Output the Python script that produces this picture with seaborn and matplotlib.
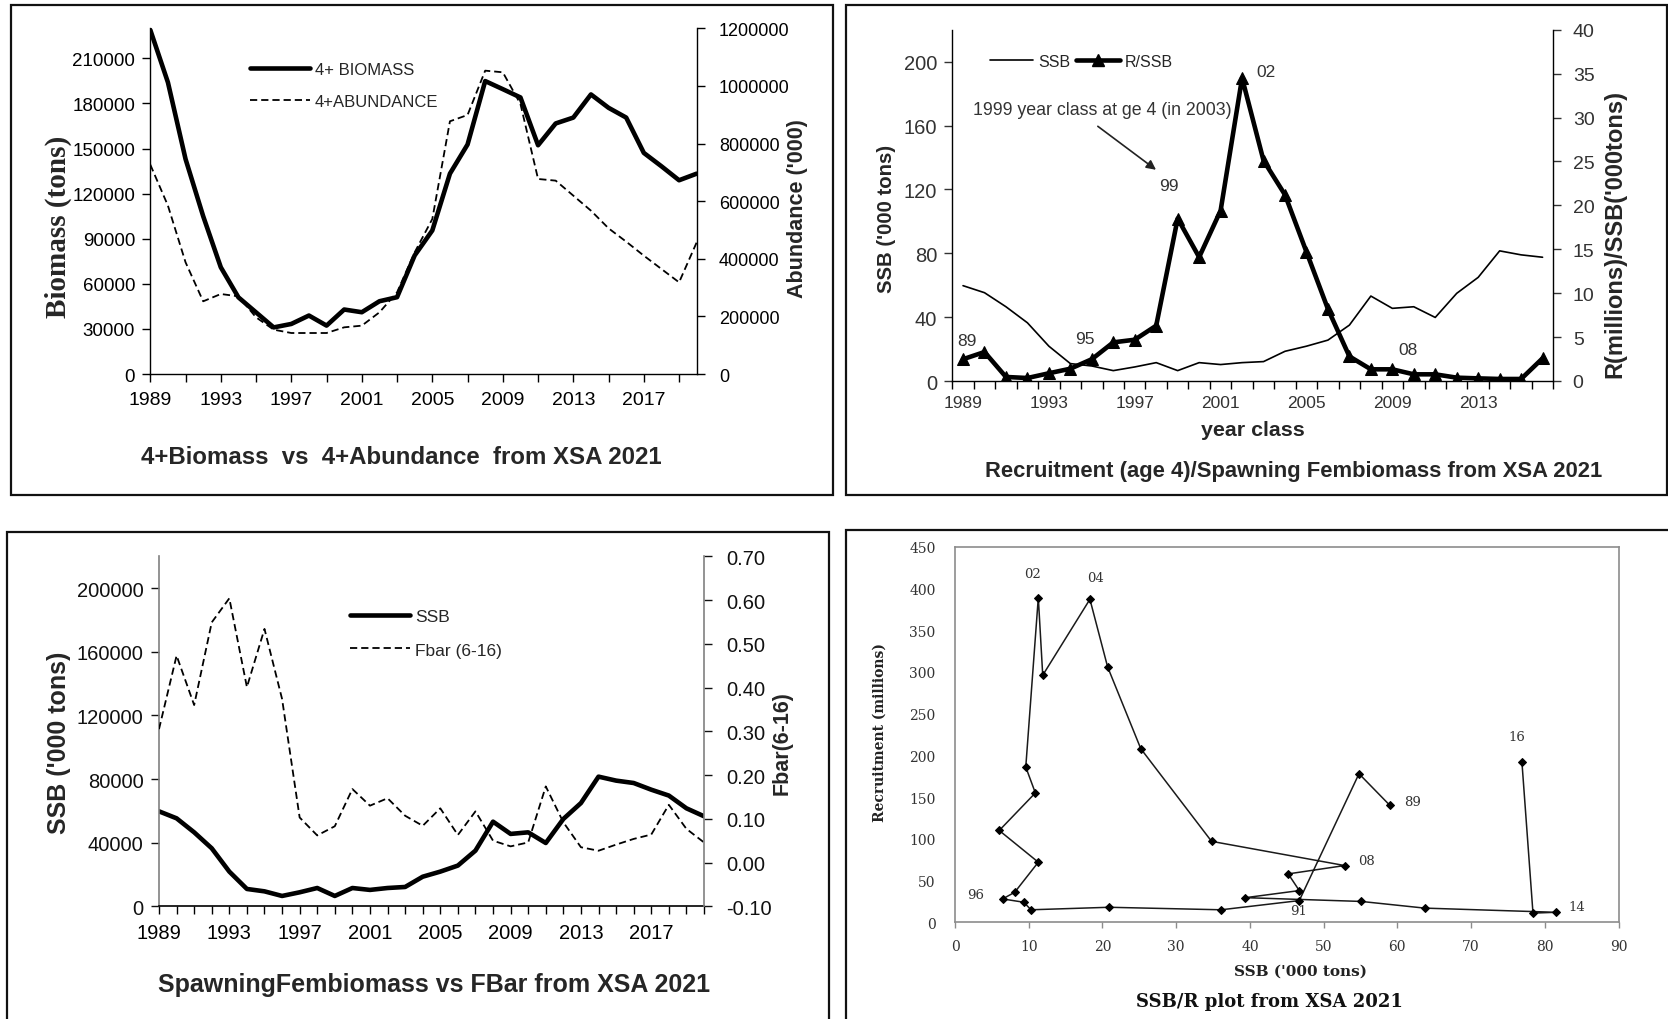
import numpy as np
import matplotlib
matplotlib.use('Agg')
import matplotlib.pyplot as plt
import seaborn as sns
from matplotlib.lines import Line2D
from matplotlib.patches import Rectangle

# ---------------- data ----------------
years = list(range(1989, 2021))
biomass = [228900, 194000, 143000, 105000, 71000, 51000, 41000, 31000, 33300, 38900,
           32200, 42900, 41100, 48400, 51100, 78900, 95500, 133300, 152700, 194900,
           189500, 184000, 152200, 166700, 170600, 186000, 177100, 170600, 147100,
           138200, 128900, 133300]
abundance = [726700, 584400, 387700, 252300, 277700, 269600, 196700, 153900, 142300,
             142300, 142300, 162000, 167800, 214100, 283500, 422400, 538100, 877200,
             899100, 1053000, 1047300, 937300, 677000, 671200, 619100, 567000, 505700,
             459400, 410800, 364500, 318200, 457100]
ssb = [59700, 55300, 46500, 36450, 21800, 10900, 9400, 6500, 8800, 11500, 6500, 11500,
       10300, 11500, 12150, 18600, 21800, 25600, 35000, 53200, 45500, 46500, 39800,
       54900, 64900, 81500, 79000, 77500, 73300, 69600, 61600, 56600]
fbar = [0.305, 0.473, 0.360, 0.549, 0.604, 0.401, 0.534, 0.374, 0.103, 0.062, 0.083,
        0.168, 0.130, 0.147, 0.107, 0.084, 0.124, 0.063, 0.117, 0.050, 0.037, 0.046,
        0.174, 0.092, 0.035, 0.027, 0.041, 0.054, 0.064, 0.132, 0.077, 0.046]

year_class = list(range(1989, 2017))
ssb_k = [v / 1000 for v in ssb[:len(year_class)]]
r_per_ssb = [2.48, 3.3, 0.46, 0.34, 0.88, 1.4, 2.48, 4.4, 4.7, 6.3, 18.5, 14.1, 19.4,
             34.5, 25.1, 21.2, 14.7, 8.2, 2.8, 1.33, 1.33, 0.76, 0.76, 0.38, 0.3, 0.23,
             0.23, 2.58]
rs_labels = ['89', '95', '99', '02', '08']

sr_ssb = [59.0, 54.8, 46.7, 36.1, 20.9, 10.3, 9.35, 6.46, 8.1, 11.3, 6.0, 10.9, 9.6,
          11.3, 11.9, 18.3, 20.7, 25.2, 34.8, 52.85, 45.2, 46.7, 39.4, 55.1, 63.7,
          81.5, 78.4, 76.9]
sr_rec = [140, 178, 26, 15, 18, 15, 24, 28, 36, 72, 110, 155, 186, 389, 296, 387, 306,
          208, 97, 68, 58, 38, 29.5, 25, 17, 12, 11, 192]
sr_labels = ['02', '04', '96', '08', '89', '16', '14', '91']

# ---------------- setup ----------------
sns.set_theme(style='ticks')
plt.rcParams['font.family'] = ['Liberation Sans', 'DejaVu Sans']
SERIF = ['DejaVu Serif']

W, H = 1668, 1020
fig = plt.figure(figsize=(W / 100, H / 100), dpi=100)
fig.patch.set_facecolor('white')


def axrect(l, r, t, b):
    return [l / W, 1 - b / H, (r - l) / W, (b - t) / H]


def ftext(x, y, s, **kw):
    ha = kw.pop('ha', 'center')
    va = kw.pop('va', 'center')
    fig.text(x / W, 1 - y / H, s, ha=ha, va=va, **kw)


def twin_style(ax, axb, color='black', lcolor='black', lw=1.0):
    ax.spines['top'].set_visible(False)
    ax.spines['right'].set_visible(False)
    axb.spines['top'].set_visible(False)
    axb.spines['left'].set_visible(False)
    axb.spines['bottom'].set_visible(False)
    ax.spines['left'].set_color(lcolor)
    ax.spines['bottom'].set_color(color)
    axb.spines['right'].set_color(lcolor)
    for s in ('left', 'bottom'):
        ax.spines[s].set_linewidth(lw)
    axb.spines['right'].set_linewidth(lw)
    ax.set_facecolor('none')
    axb.set_facecolor('none')
    ax.set_xlabel('')
    ax.set_ylabel('')
    axb.set_xlabel('')
    axb.set_ylabel('')


dash = (0, (4, 2.2))

# ---------------- panel 1 ----------------
ax1 = fig.add_axes(axrect(150.3, 696.7, 29.3, 375))
ax1b = ax1.twinx()
sns.lineplot(x=years, y=biomass, ax=ax1, color='black', linewidth=3.3,
             estimator=None, legend=False)
sns.lineplot(x=years, y=abundance, ax=ax1b, color='black', linewidth=1.3,
             linestyle=dash, estimator=None, legend=False)
ax1.set_xlim(1989, 2020)
ax1.set_ylim(0, 230000)
ax1b.set_ylim(0, 1200000)
yt1 = list(range(0, 210001, 30000))
ax1.set_yticks(yt1)
ax1.set_yticklabels([str(v) for v in yt1])
yt1b = list(range(0, 1200001, 200000))
ax1b.set_yticks(yt1b)
ax1b.set_yticklabels([str(v) for v in yt1b])
xt = list(range(1989, 2021, 2))
ax1.set_xticks(xt)
ax1.set_xticklabels([str(y) if (y - 1989) % 4 == 0 else '' for y in xt])
twin_style(ax1, ax1b)
ax1.tick_params(axis='x', direction='out', length=6, width=1, labelsize=14, pad=6, colors='black')
ax1.tick_params(axis='y', direction='out', length=6, width=1, labelsize=13.5, pad=5, colors='black')
ax1b.tick_params(axis='y', direction='out', length=6, width=1, labelsize=13, pad=10, colors='black')
ax1.legend(handles=[Line2D([], [], color='black', lw=3.3),
                    Line2D([], [], color='black', lw=1.3, ls=dash)],
           labels=['4+ BIOMASS', '4+ABUNDANCE'], loc='upper left',
           bbox_to_anchor=(250 / W, 1 - 63 / H), bbox_transform=fig.transFigure,
           frameon=False, borderpad=0, borderaxespad=0, handlelength=3.6,
           handletextpad=0.3, labelspacing=1.0, fontsize=12)
ftext(58, 227, 'Biomass (tons)', rotation=90, fontsize=21, fontweight='bold',
      family=['Liberation Serif'])
ftext(798, 209, "Abundance ('000)", rotation=90, fontsize=15.5, fontweight='bold')
ftext(401, 458, '4+Biomass  vs  4+Abundance  from XSA 2021', fontsize=17.3, fontweight='bold')

# ---------------- panel 2 ----------------
ax2 = fig.add_axes(axrect(952.3, 1553.3, 30.7, 382))
ax2b = ax2.twinx()
sns.lineplot(x=year_class, y=ssb_k, ax=ax2, color='black', linewidth=1.2,
             estimator=None, legend=False)
sns.lineplot(x=year_class, y=r_per_ssb, ax=ax2b, color='black', linewidth=3.3,
             marker='^', markersize=9, markeredgecolor='black', estimator=None,
             legend=False)
ax2.set_xlim(1988.5, 2016.5)
ax2.set_ylim(0, 220)
ax2b.set_ylim(0, 40)
ax2.set_yticks(range(0, 201, 40))
ax2b.set_yticks(range(0, 41, 5))
ax2.set_xticks(list(range(1989, 2017, 4)))
ax2.set_xticks(list(np.arange(1988.5, 2017, 1.0)), minor=True)
twin_style(ax2, ax2b)
ax2.tick_params(axis='x', which='major', length=0, labelsize=12.5, pad=10, colors='#333333')
ax2.tick_params(axis='x', which='minor', direction='out', length=6, width=1, color='black')
ax2.tick_params(axis='y', direction='out', length=6, width=1, labelsize=14.5, pad=5,
                colors='#333333')
ax2b.tick_params(axis='y', direction='out', length=6, width=1, labelsize=14, pad=8,
                 colors='#333333')
ax2.legend(handles=[Line2D([], [], color='black', lw=1.2),
                    Line2D([], [], color='black', lw=3.3, marker='^', markersize=8)],
           labels=['SSB', 'R/SSB'], loc='upper left', ncol=2,
           bbox_to_anchor=(990 / W, 1 - 55 / H), bbox_transform=fig.transFigure,
           frameon=False, borderpad=0, borderaxespad=0, handlelength=2.7,
           handletextpad=0.3, columnspacing=0.4, fontsize=11.5)
lab_pos = [(1989.2, 4.56), (1994.66, 4.8), (1998.57, 22.3), (2003.1, 35.25), (2009.74, 3.53)]
for s, (x, y) in zip(rs_labels, lab_pos):
    ax2b.text(x, y, s, ha='center', va='center', fontsize=12.5, color='#333333')
ax2b.text(1995.5, 30.9, '1999 year class at ge 4 (in 2003)', ha='center', va='center',
          fontsize=12.8, color='#333333')
ax2b.annotate('', xy=(1997.99, 24.05), xytext=(1995.28, 29.0),
              arrowprops=dict(arrowstyle='-|>', color='#222222', lw=1.2,
                              mutation_scale=14, shrinkA=0, shrinkB=0))
ftext(886.7, 219, "SSB ('000 tons)", rotation=90, fontsize=14.7, fontweight='bold')
ftext(1615, 234, "R(millions)/SSB('000tons)", rotation=90, fontsize=17, fontweight='bold')
ftext(1252.5, 430, 'year class', fontsize=15.4, fontweight='bold')
ftext(1293.3, 471.7, 'Recruitment (age 4)/Spawning Fembiomass from XSA 2021',
      fontsize=15.8, fontweight='bold')

# ---------------- panel 3 ----------------
ax3 = fig.add_axes(axrect(159, 704, 557.3, 907.3))
ax3b = ax3.twinx()
sns.lineplot(x=years, y=ssb, ax=ax3, color='black', linewidth=3.3,
             estimator=None, legend=False)
sns.lineplot(x=years, y=fbar, ax=ax3b, color='black', linewidth=1.3,
             linestyle=dash, estimator=None, legend=False)
ax3.set_xlim(1989, 2020)
ax3.set_ylim(0, 220000)
ax3b.set_ylim(-0.1, 0.7)
ax3.set_yticks(range(0, 200001, 40000))
fb_ticks = [round(v, 2) for v in np.arange(-0.1, 0.701, 0.1)]
ax3b.set_yticks(fb_ticks)
ax3b.set_yticklabels([f'{v:.2f}' for v in fb_ticks])
xt3 = list(range(1989, 2021))
ax3.set_xticks(xt3)
ax3.set_xticklabels([str(y) if (y - 1989) % 4 == 0 else '' for y in xt3])
twin_style(ax3, ax3b, color='black', lcolor='#808080', lw=1.2)
ax3.tick_params(axis='x', direction='out', length=6, width=1, labelsize=14.5, pad=6, colors='black')
ax3.tick_params(axis='y', direction='out', length=6, width=1, labelsize=14.5, pad=5, colors='#111111')
ax3b.tick_params(axis='y', direction='out', length=6, width=1, labelsize=14.5, pad=10, colors='#111111')
ax3.legend(handles=[Line2D([], [], color='black', lw=3.3),
                    Line2D([], [], color='black', lw=1.3, ls=dash)],
           labels=['SSB', 'Fbar (6-16)'], loc='upper left',
           bbox_to_anchor=(350 / W, 1 - 610 / H), bbox_transform=fig.transFigure,
           frameon=False, borderpad=0, borderaxespad=0, handlelength=3.45,
           handletextpad=0.3, labelspacing=1.05, fontsize=12.5)
ftext(59, 742.5, "SSB ('000 tons)", rotation=90, fontsize=18, fontweight='bold')
ftext(782, 743.3, 'Fbar(6-16)', rotation=90, fontsize=15.5, fontweight='bold')
ftext(434, 985, 'SpawningFembiomass vs FBar from XSA 2021', fontsize=18, fontweight='bold')

# ---------------- panel 4 ----------------
ax4 = fig.add_axes(axrect(955, 1618.5, 547.7, 923.3))
sns.lineplot(x=sr_ssb, y=sr_rec, ax=ax4, sort=False, estimator=None, color='#1a1a1a',
             linewidth=1.1, marker='D', markersize=4.5, markeredgecolor='black',
             markerfacecolor='black', legend=False)
ax4.set_xlim(0, 90)
ax4.set_ylim(0, 450)
ax4.set_xticks(range(0, 91, 10))
ax4.set_yticks(range(0, 451, 50))
for s in ax4.spines.values():
    s.set_color('#8c8c8c')
    s.set_linewidth(1.2)
ax4.set_xlabel('')
ax4.set_ylabel('')
ax4.tick_params(axis='x', direction='out', length=4, width=1, color='#8c8c8c',
                labelsize=10, pad=8, labelcolor='#333333')
ax4.tick_params(axis='y', length=0, labelsize=10, pad=14, labelcolor='#333333')
for lab in ax4.get_xticklabels() + ax4.get_yticklabels():
    lab.set_family(SERIF)
sr_lab_pos = [(10.5, 418), (19.0, 413), (2.85, 33), (55.8, 74), (62.0, 145),
              (76.2, 223), (84.3, 19), (46.65, 14)]
for s, (x, y) in zip(sr_labels, sr_lab_pos):
    ax4.text(x, y, s, ha='center', va='center', fontsize=9.5, color='#333333', family=SERIF)
ftext(880, 732.5, 'Recruitment (millions)', rotation=90, fontsize=10,
      fontweight='bold', family=SERIF, color='#222222')
ftext(1300.5, 972, "SSB ('000 tons)", fontsize=11, fontweight='bold', family=SERIF,
      color='#222222')
ftext(1269.5, 1001.7, 'SSB/R plot from XSA 2021', fontsize=13, fontweight='bold',
      family=SERIF, color='#111111')

# ---------------- panel borders ----------------
for (l, t, r, b) in [(10.7, 6, 833.3, 495.7), (846, 6, 1666.7, 495.7),
                     (6.7, 533.3, 829, 1040), (846, 531, 1690, 1040)]:
    fig.add_artist(Rectangle((l / W, 1 - b / H), (r - l) / W, (b - t) / H,
                             transform=fig.transFigure, fill=False, lw=1.6,
                             ec='#111111', clip_on=False))

fig.savefig('out.png', dpi=100, facecolor='white')
